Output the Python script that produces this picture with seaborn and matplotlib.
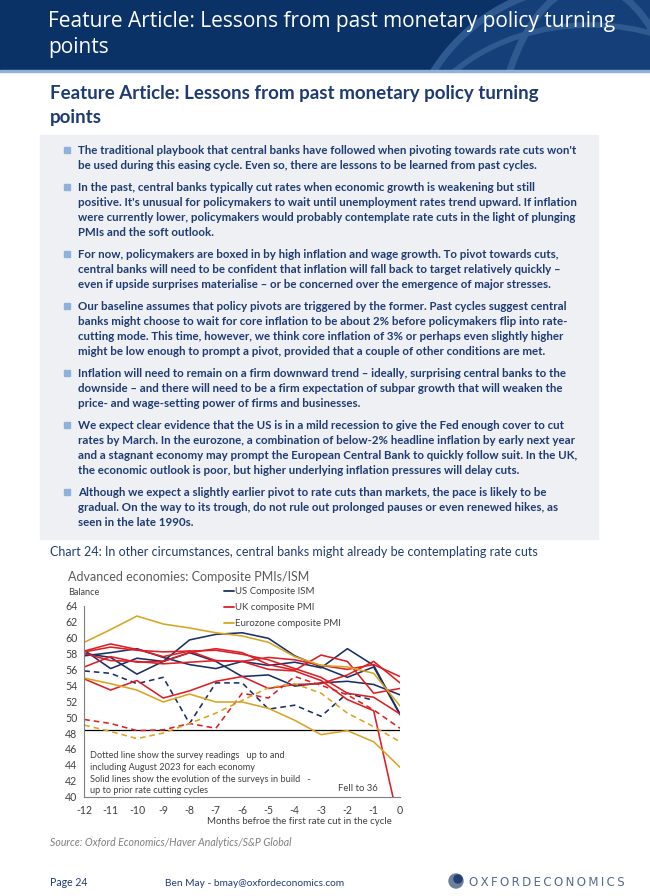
import numpy as np
import pandas as pd
import seaborn as sns
import matplotlib.pyplot as plt
from matplotlib.lines import Line2D
from matplotlib.patches import Rectangle, Circle, Ellipse

# Months before the first rate cut in the cycle
months = list(range(-12, 1))

# US Composite ISM: past cycles (solid) and readings up to Aug 2023 (dashed)
us_cycle1 = [58.0, 57.5, 55.4, 57.0, 59.7, 60.4, 60.6, 59.9, 57.7, 56.3, 55.0, 56.3, 50.3]
us_cycle2 = [58.4, 56.1, 57.4, 57.0, 58.1, 57.0, 55.1, 55.3, 53.9, 54.3, 54.5, 54.1, 52.8]
us_cycle3 = [57.7, 58.1, 58.6, 57.5, 56.6, 56.1, 57.0, 56.5, 56.9, 56.2, 58.6, 56.5, 50.4]
us_now = [55.8, 55.5, 54.2, 55.0, 49.2, 54.3, 54.3, 51.0, 51.5, 50.1, 53.0, 52.1]

# UK composite PMI
uk_cycle1 = [58.3, 59.2, 58.5, 57.6, 58.3, 57.1, 57.0, 56.0, 55.8, 54.6, 52.2, 50.8, 36.0]
uk_cycle2 = [58.2, 58.8, 58.4, 58.2, 58.3, 58.4, 57.9, 57.2, 56.1, 55.0, 53.0, 52.5, 50.4]
uk_cycle3 = [56.3, 57.6, 56.9, 57.0, 58.1, 58.6, 58.1, 56.6, 55.9, 57.8, 57.0, 53.0, 53.6]
uk_cycle4 = [58.0, 57.1, 57.0, 56.7, 56.9, 57.1, 57.0, 57.5, 57.2, 56.5, 56.0, 56.6, 55.1]
uk_cycle5 = [54.8, 53.4, 54.6, 52.4, 53.3, 54.5, 55.1, 53.6, 54.1, 54.2, 55.3, 57.0, 54.3]
uk_now = [49.7, 49.2, 48.3, 48.4, 49.2, 48.6, 53.0, 52.4, 55.1, 54.0, 52.8, 50.9, 48.6]

# Eurozone composite PMI
ez_cycle1 = [59.4, 61.0, 62.7, 61.7, 61.2, 60.6, 60.2, 59.4, 57.6, 56.5, 56.3, 55.5, 51.4]
ez_cycle2 = [54.9, 54.2, 53.4, 51.9, 52.9, 51.9, 51.9, 51.1, 49.6, 47.8, 48.3, 46.9, 43.7]
ez_now = [49.0, 48.2, 47.3, 48.0, 49.2, 50.5, 52.1, 53.7, 54.2, 53.0, 50.5, 48.8, 46.9]

threshold = 48.4

economies = ['US Composite ISM', 'UK composite PMI', 'Eurozone composite PMI']
colors = ['#1b2f63', '#dd1f26', '#d9a520']

series = [
    ('US Composite ISM', 'past', 'us1', us_cycle1),
    ('US Composite ISM', 'past', 'us2', us_cycle2),
    ('US Composite ISM', 'past', 'us3', us_cycle3),
    ('UK composite PMI', 'past', 'uk1', uk_cycle1),
    ('UK composite PMI', 'past', 'uk2', uk_cycle2),
    ('UK composite PMI', 'past', 'uk3', uk_cycle3),
    ('UK composite PMI', 'past', 'uk4', uk_cycle4),
    ('UK composite PMI', 'past', 'uk5', uk_cycle5),
    ('Eurozone composite PMI', 'past', 'ez1', ez_cycle1),
    ('Eurozone composite PMI', 'past', 'ez2', ez_cycle2),
    ('US Composite ISM', 'now', 'usn', us_now),
    ('UK composite PMI', 'now', 'ukn', uk_now),
    ('Eurozone composite PMI', 'now', 'ezn', ez_now),
]
rows = []
for eco, kind, unit, vals in series:
    for m, v in zip(months, vals):
        rows.append({'month': m, 'value': v, 'economy': eco, 'kind': kind, 'cycle': unit})
df = pd.DataFrame(rows)

sns.set_style('white')
plt.rcParams['font.family'] = ['Lato', 'DejaVu Sans']
plt.rcParams['axes.unicode_minus'] = False

W, H = 650, 896
fig = plt.figure(figsize=(W / 100, H / 100), dpi=100)

# page background drawn in pixel coordinates
bg = fig.add_axes([0, 0, 1, 1])
bg.set_xlim(0, W)
bg.set_ylim(H, 0)
bg.axis('off')

navy = '#1f3b73'
banner = Rectangle((0, 0), W, 70, color='#0b3266', zorder=1)
bg.add_patch(banner)
globe = [Circle((590, 170), 185, facecolor='#153f78', edgecolor='#2f5a90', lw=5, zorder=2),
         Ellipse((590, 170), 190, 370, facecolor='none', edgecolor='#2f5a90', lw=5, zorder=3),
         Ellipse((590, 170), 370, 150, facecolor='none', edgecolor='#2f5a90', lw=5, zorder=3),
         Ellipse((590, 170), 370, 290, facecolor='none', edgecolor='#2f5a90', lw=4, zorder=3)]
for p in globe:
    bg.add_patch(p)
    p.set_clip_path(banner)
bg.add_patch(Rectangle((0, 70), W, 2, color='#8fb0d8', zorder=4))

for i, line in enumerate(['Feature Article: Lessons from past monetary policy turning', 'points']):
    bg.text(48, 22 + i * 26, line, color='white', fontsize=15, family=['Open Sans', 'DejaVu Sans'],
            va='center', ha='left', zorder=5)

for i, line in enumerate(['Feature Article: Lessons from past monetary policy turning', 'points']):
    bg.text(50, 93 + i * 24, line, color=navy, fontsize=13.5, fontweight='bold', va='center', ha='left')

# key points box
bg.add_patch(Rectangle((40, 135), 558, 404, color='#eff0f3', zorder=0))
bullets = [
    ["The traditional playbook that central banks have followed when pivoting towards rate cuts won't",
     "be used during this easing cycle. Even so, there are lessons to be learned from past cycles."],
    ["In the past, central banks typically cut rates when economic growth is weakening but still",
     "positive. It's unusual for policymakers to wait until unemployment rates trend upward. If inflation",
     "were currently lower, policymakers would probably contemplate rate cuts in the light of plunging",
     "PMIs and the soft outlook."],
    ["For now, policymakers are boxed in by high inflation and wage growth. To pivot towards cuts,",
     "central banks will need to be confident that inflation will fall back to target relatively quickly \u2013",
     "even if upside surprises materialise \u2013 or be concerned over the emergence of major stresses."],
    ["Our baseline assumes that policy pivots are triggered by the former. Past cycles suggest central",
     "banks might choose to wait for core inflation to be about 2% before policymakers flip into rate-",
     "cutting mode. This time, however, we think core inflation of 3% or perhaps even slightly higher",
     "might be low enough to prompt a pivot, provided that a couple of other conditions are met."],
    ["Inflation will need to remain on a firm downward trend \u2013 ideally, surprising central banks to the",
     "downside \u2013 and there will need to be a firm expectation of subpar growth that will weaken the",
     "price- and wage-setting power of firms and businesses."],
    ["We expect clear evidence that the US is in a mild recession to give the Fed enough cover to cut",
     "rates by March. In the eurozone, a combination of below-2% headline inflation by early next year",
     "and a stagnant economy may prompt the European Central Bank to quickly follow suit. In the UK,",
     "the economic outlook is poor, but higher underlying inflation pressures will delay cuts."],
    ["Although we expect a slightly earlier pivot to rate cuts than markets, the pace is likely to be",
     "gradual. On the way to its trough, do not rule out prolonged pauses or even renewed hikes, as",
     "seen in the late 1990s."],
]
y = 150.5
for para in bullets:
    bg.add_patch(Rectangle((63.5, y - 3.2), 6, 6, color='#8eb2dc', zorder=1))
    for line in para:
        bg.text(78, y, line, color=navy, fontsize=8.3, fontweight='bold', va='center', ha='left')
        y += 15.2
    y += 6.3

bg.text(50, 552, 'Chart 24: In other circumstances, central banks might already be contemplating rate cuts',
        color=navy, fontsize=9.0, va='center', ha='left')

# chart
ax = fig.add_axes([84.3 / W, 1 - 796.7 / H, 315.7 / W, 191 / H])
sns.lineplot(data=df, x='month', y='value', hue='economy', style='kind', units='cycle',
             estimator=None, hue_order=economies, palette=colors, style_order=['past', 'now'],
             dashes={'past': '', 'now': (3.5, 2.5)}, linewidth=1.15, legend=False, ax=ax)
ax.axhline(threshold, color='black', lw=0.9, zorder=1)
ax.set_xlim(-12, 0)
ax.set_ylim(40, 64)
ax.set_xticks(months)
ax.set_yticks(range(40, 65, 2))
ax.set_xlabel('')
ax.set_ylabel('')
ax.patch.set_alpha(0)
for s in ['top', 'right']:
    ax.spines[s].set_visible(False)
for s in ['left', 'bottom']:
    ax.spines[s].set_color('#7f7f7f')
    ax.spines[s].set_linewidth(0.8)
ax.tick_params(axis='both', direction='out', length=3, width=0.8, color='#7f7f7f',
               labelsize=7.6, labelcolor='#404040', pad=2)
ax.tick_params(axis='x', pad=3)

ax.text(0.018, 0.239, 'Dotted line show the survey readings   up to and\n'
        'including August 2023 for each economy\n'
        'Solid lines show the evolution of the surveys in build   -\n'
        'up to prior rate cutting cycles',
        transform=ax.transAxes, fontsize=6.6, color='#404040', va='top', ha='left', linespacing=1.4)
ax.text(0.93, 0.045, 'Fell to 36', transform=ax.transAxes, fontsize=6.8, color='#404040',
        va='center', ha='right')

handles = [Line2D([], [], color=c, lw=1.3) for c in colors]
fig.legend(handles, economies, loc='upper left', bbox_to_anchor=(224 / W, 1 - 587 / H),
           frameon=False, fontsize=6.9, handlelength=1.0, handletextpad=0.15,
           labelspacing=0.75, borderaxespad=0, borderpad=0, labelcolor='#404040')

bg.text(68, 577, 'Advanced economies: Composite PMIs/ISM', color='#595959', fontsize=9.0,
        va='center', ha='left')
bg.text(68, 592.5, 'Balance', color='#404040', fontsize=6.6, va='center', ha='left')
bg.text(299, 822, 'Months befroe the first rate cut in the cycle', color='#404040', fontsize=6.9,
        va='center', ha='center')

bg.text(50, 843, 'Source: Oxford Economics/Haver Analytics/S&P Global', color='#7f7f7f',
        fontsize=7.6, style='italic', va='center', ha='left')

# footer
bg.text(50, 883, 'Page 24', color=navy, fontsize=7.6, va='center', ha='left')
bg.text(165, 883, 'Ben May - bmay@oxfordeconomics.com', color=navy, fontsize=7.3, va='center', ha='left')
bg.add_patch(Circle((456, 881), 7, color='#6d7f9c'))
bg.add_patch(Circle((458, 879), 4, color='#22406f'))
bg.text(469, 883, '\u2009'.join('OXFORDECONOMICS'), color='#556a8a', fontsize=8.5,
        family=['DejaVu Sans'], va='center', ha='left')

fig.savefig('out.png', dpi=100)
